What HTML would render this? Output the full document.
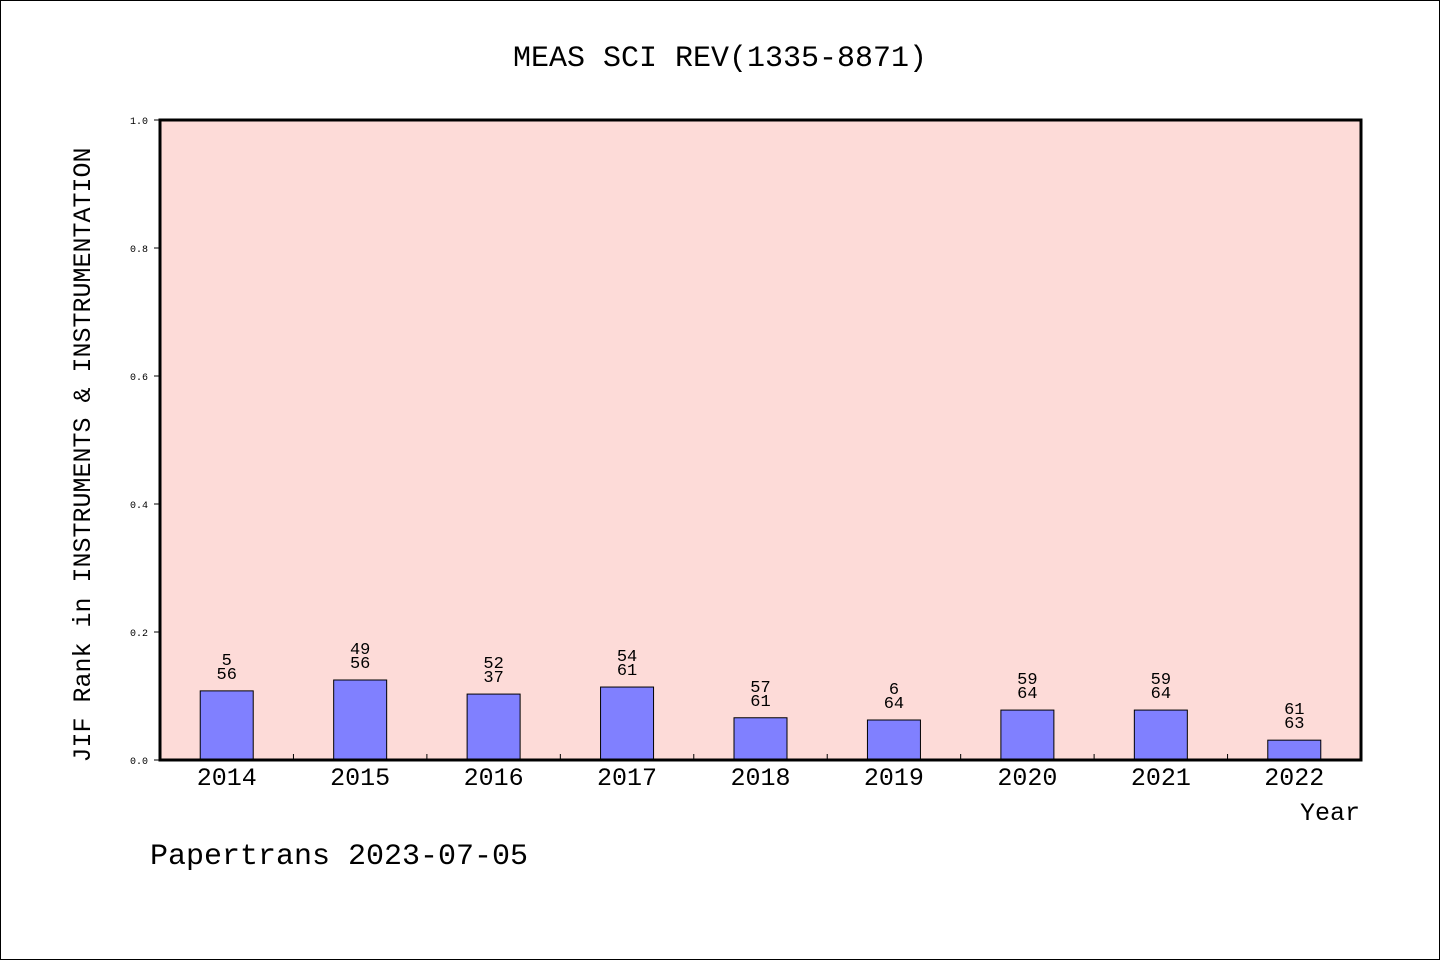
<!DOCTYPE html>
<html><head><meta charset="utf-8"><style>
body{margin:0;background:#fff;}
svg{display:block;font-family:"Liberation Mono","DejaVu Sans Mono",monospace;}
</style></head><body>
<svg width="1440" height="960">
<rect x="0.5" y="0.5" width="1439" height="959" fill="#fff" stroke="#000"/>
<text x="720" y="66" text-anchor="middle" font-size="30">MEAS SCI REV(1335-8871)</text>
<rect x="160" y="120" width="1201" height="640" fill="#fddbd8"/>
<g id="grid"></g>
<g id="bars"></g>
<rect x="160" y="120" width="1201" height="640" fill="none" stroke="#000" stroke-width="3"/>
<text transform="translate(90,455) rotate(-90)" text-anchor="middle" font-size="25">JIF Rank in INSTRUMENTS &amp; INSTRUMENTATION</text>
<text x="1360" y="820" text-anchor="end" font-size="25">Year</text>
<text x="150" y="864" font-size="30">Papertrans 2023-07-05</text>
</svg>
<script>
const years=["2014","2015","2016","2017","2018","2019","2020","2021","2022"];
const values=[0.108,0.125,0.103,0.114,0.066,0.0625,0.078,0.078,0.031];
const ranks=["5","49","52","54","57","6","59","59","61"];
const totals=["56","56","37","61","61","64","64","64","63"];
const yTicks=[0,0.2,0.4,0.6,0.8,1.0];
const NS="http://www.w3.org/2000/svg";
const X0=160,W=1201,Y0=760,H=640;
const band=W/years.length;
const y=v=>Y0-v*H;
const xc=i=>X0+band*(i+0.5);
const bars=document.getElementById('bars'),grid=document.getElementById('grid');
function mk(tag,at,parent){const e=document.createElementNS(NS,tag);for(const k in at)e.setAttribute(k,at[k]);parent.appendChild(e);return e;}
yTicks.forEach(t=>{
 const l=mk('line',{x1:X0-6,x2:X0,y1:y(t),y2:y(t),stroke:'#000'},grid);
 
 
 const tx=mk('text',{x:X0-12,y:y(t)+4,'text-anchor':'end','font-size':'10',fill:'#000'},grid);
 tx.textContent=t.toFixed(1);
 
 
});
for(let i=1;i<years.length;i++){
 const l=mk('line',{x1:X0+band*i,x2:X0+band*i,y1:Y0,y2:Y0-6,stroke:'#000'},grid);
 
 
}
years.forEach((yr,i)=>{
 const bw=53,cx=xc(i);
 const r=mk('rect',{x:cx-bw/2,y:y(values[i]),width:bw,height:values[i]*H,fill:'#8080ff',stroke:'#000','stroke-width':1},bars);
 
 
 const t1=mk('text',{x:cx,y:y(values[i])-26,'text-anchor':'middle','font-size':'17'},bars);
 t1.textContent=ranks[i];
 
 
 const t2=mk('text',{x:cx,y:y(values[i])-12,'text-anchor':'middle','font-size':'17'},bars);
 t2.textContent=totals[i];
 
 
 const xl=mk('text',{x:cx,y:785,'text-anchor':'middle','font-size':'25'},bars);
 xl.textContent=yr;
 
 
});
</script>
</body></html>
